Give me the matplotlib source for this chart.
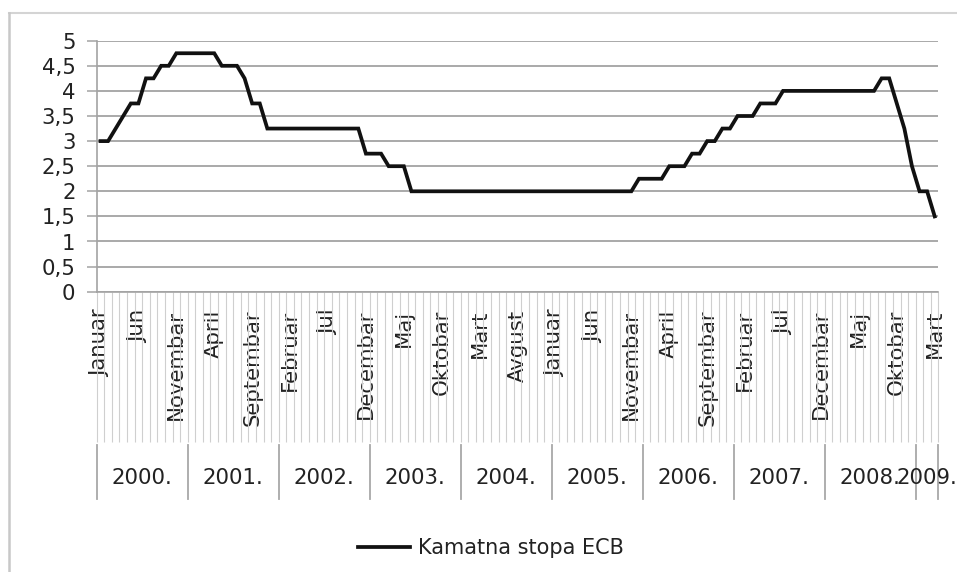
import matplotlib
matplotlib.use('Agg')
import matplotlib.pyplot as plt
from matplotlib.lines import Line2D

# ---- data ----
month_names = ['Januar', 'Februar', 'Mart', 'April', 'Maj', 'Jun', 'Jul',
               'Avgust', 'Septembar', 'Oktobar', 'Novembar', 'Decembar']
years = ['2000.', '2001.', '2002.', '2003.', '2004.', '2005.', '2006.',
         '2007.', '2008.', '2009.']
months_per_year = [12, 12, 12, 12, 12, 12, 12, 12, 12, 3]

rate_2000 = [3.0, 3.0, 3.25, 3.5, 3.75, 3.75, 4.25, 4.25, 4.5, 4.5, 4.75, 4.75]
rate_2001 = [4.75, 4.75, 4.75, 4.75, 4.5, 4.5, 4.5, 4.25, 3.75, 3.75, 3.25, 3.25]
rate_2002 = [3.25, 3.25, 3.25, 3.25, 3.25, 3.25, 3.25, 3.25, 3.25, 3.25, 3.25, 2.75]
rate_2003 = [2.75, 2.75, 2.5, 2.5, 2.5, 2.0, 2.0, 2.0, 2.0, 2.0, 2.0, 2.0]
rate_2004 = [2.0, 2.0, 2.0, 2.0, 2.0, 2.0, 2.0, 2.0, 2.0, 2.0, 2.0, 2.0]
rate_2005 = [2.0, 2.0, 2.0, 2.0, 2.0, 2.0, 2.0, 2.0, 2.0, 2.0, 2.0, 2.25]
rate_2006 = [2.25, 2.25, 2.25, 2.5, 2.5, 2.5, 2.75, 2.75, 3.0, 3.0, 3.25, 3.25]
rate_2007 = [3.5, 3.5, 3.5, 3.75, 3.75, 3.75, 4.0, 4.0, 4.0, 4.0, 4.0, 4.0]
rate_2008 = [4.0, 4.0, 4.0, 4.0, 4.0, 4.0, 4.0, 4.25, 4.25, 3.75, 3.25, 2.5]
rate_2009 = [2.0, 2.0, 1.5]

y_ticks = [0, 0.5, 1, 1.5, 2, 2.5, 3, 3.5, 4, 4.5, 5]
y_labels = ['0', '0,5', '1', '1,5', '2', '2,5', '3', '3,5', '4', '4,5', '5']
series_name = 'Kamatna stopa ECB'
label_every = 5

rates = (rate_2000 + rate_2001 + rate_2002 + rate_2003 + rate_2004 +
         rate_2005 + rate_2006 + rate_2007 + rate_2008 + rate_2009)
n = len(rates)
x = list(range(n))
cat_months = []
for cnt in months_per_year:
    cat_months += month_names[:cnt]

# ---- style ----
W, H = 957, 572
FONT = 'DejaVu Sans'
FS = 15.3
TXT = '#222222'
GRID = '#a3a3a3'
plt.rcParams['font.family'] = [FONT]

fig = plt.figure(figsize=(W / 100, H / 100), dpi=100)
x0, x1, ytop, ybot = 96.7, 938.5, 40.7, 291.7
ax = fig.add_axes([x0 / W, 1 - ybot / H, (x1 - x0) / W, (ybot - ytop) / H])

line, = ax.plot(x, rates, color='#111111', lw=2.7, solid_joinstyle='miter',
                label=series_name, zorder=3)

ax.set_xlim(-0.5, n - 0.5)
ax.set_ylim(0, 5)
ax.set_yticks(y_ticks)
ax.set_yticklabels(y_labels)
ax.yaxis.grid(True, color=GRID, lw=1.3)
ax.set_axisbelow(True)
for s in ['top', 'right']:
    ax.spines[s].set_visible(False)
for s in ['left', 'bottom']:
    ax.spines[s].set_color(GRID)
    ax.spines[s].set_linewidth(1.2)
ax.tick_params(axis='y', length=7.2, width=1.1, color=GRID, pad=8,
               labelsize=FS, labelcolor=TXT)

# month labels (every 5th category)
major = [i for i in x if i % label_every == 0]
ax.set_xticks(major)
ax.set_xticklabels([cat_months[i] for i in major], rotation=90, va='top',
                   ha='center')
ax.set_xticks([i - 0.5 for i in range(n + 1)], minor=True)
ax.tick_params(axis='x', which='major', length=0, pad=13, labelsize=FS,
               labelcolor=TXT)
ax.tick_params(axis='x', which='minor', length=108, width=0.8,
               color='#cfcfcf', direction='out')

# year row
axh = ybot - ytop
def yfrac(py):
    return (ybot - py) / axh

tr = ax.get_xaxis_transform()
start = -0.5
bounds = [start]
for cnt in months_per_year:
    bounds.append(bounds[-1] + cnt)
for b in bounds:
    ax.add_line(Line2D([b, b], [yfrac(445), yfrac(499)], transform=tr,
                       color='#a8a8a8', lw=1.3, clip_on=False))
for i, yr in enumerate(years):
    cx = (bounds[i] + bounds[i + 1]) / 2
    ax.text(cx, yfrac(477.5), yr, transform=tr, ha='center', va='center',
            fontsize=FS, color=TXT, clip_on=False)

# chart frame (top and left edges)
fig.add_artist(Line2D([9 / W, 1], [1 - 13 / H, 1 - 13 / H],
                      transform=fig.transFigure, color='#d4d4d4', lw=1.5))
fig.add_artist(Line2D([9 / W, 9 / W], [0, 1 - 13 / H],
                      transform=fig.transFigure, color='#c8c8c8', lw=1.8))

# legend
fig.legend(handles=[line], loc='center', bbox_to_anchor=(491 / W, 1 - 548 / H),
           frameon=False, fontsize=FS * 0.98, handlelength=2.5,
           handletextpad=0.4, labelcolor=TXT)

fig.savefig('out.png', dpi=100)
